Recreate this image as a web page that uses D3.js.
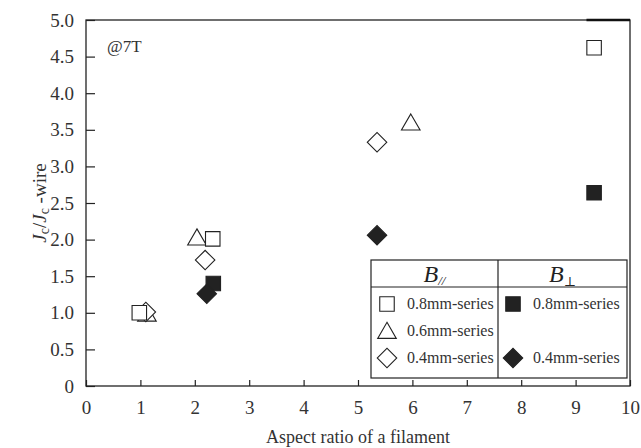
<!DOCTYPE html>
<html>
<head>
<meta charset="utf-8">
<script src="https://cdn.jsdelivr.net/npm/d3@7"></script>
<style>
  body { margin: 0; background: #fff; }
  svg { display: block; font-family: "Liberation Serif", "DejaVu Serif", serif; }
</style>
</head>
<body>
<div id="chart"></div>
<script>
// aspect ratio / Jc ratio
const sq08Par = [[0.98, 1.0], [2.33, 2.01], [9.34, 4.62]];
const tri06Par = [[1.12, 0.96], [2.04, 2.0], [5.97, 3.57]];
const dia04Par = [[1.1, 1.01], [2.19, 1.72], [5.35, 3.33]];
const sq08Perp = [[2.34, 1.4], [9.34, 2.64]];
const dia04Perp = [[2.22, 1.26], [5.35, 2.06]];

const xTicks = [0, 1, 2, 3, 4, 5, 6, 7, 8, 9, 10];
const yTicks = [0, 0.5, 1, 1.5, 2, 2.5, 3, 3.5, 4, 4.5, 5];

const width = 641, height = 448;
const margin = { top: 20, right: 11, bottom: 62, left: 86 };

const svg = d3.select('#chart').append('svg')
  .attr('width', width)
  .attr('height', height);

const x = d3.scaleLinear().domain([0, 10]).range([margin.left, width - margin.right]);
const y = d3.scaleLinear().domain([0, 5]).range([height - margin.bottom, margin.top]);

const ink = '#222';
const serif = '"Liberation Serif", serif';

// frame
svg.append('rect')
  .attr('x', x(0)).attr('y', y(5))
  .attr('width', x(10) - x(0)).attr('height', y(0) - y(5))
  .attr('fill', 'none').attr('stroke', ink).attr('stroke-width', 1.3);
// darker stub on the top edge, as in the scan
svg.append('line')
  .attr('x1', x(9.2)).attr('x2', x(10)).attr('y1', y(5)).attr('y2', y(5))
  .attr('stroke', '#111').attr('stroke-width', 2.4);

// axes with inward ticks
const xAxis = svg.append('g')
  .attr('transform', `translate(0,${y(0)})`)
  .call(d3.axisBottom(x).tickValues(xTicks).tickSizeInner(-6).tickSizeOuter(0).tickPadding(15)
    .tickFormat(d3.format('d')));
const yAxis = svg.append('g')
  .attr('transform', `translate(${x(0)},0)`)
  .call(d3.axisLeft(y).tickValues(yTicks).tickSizeInner(-9).tickSizeOuter(0).tickPadding(12)
    .tickFormat(d => d === 0 ? '0' : d3.format('.1f')(d)));

[xAxis, yAxis].forEach(g => {
  g.select('.domain').remove();
  g.selectAll('line').attr('stroke', ink).attr('stroke-width', 1.2);
  g.selectAll('text').attr('fill', '#333').style('font-size', '19px')
    .style('font-family', serif);
});

// axis titles
svg.append('text')
  .attr('x', (x(0) + x(10)) / 2).attr('y', 443)
  .attr('text-anchor', 'middle').attr('fill', '#333').style('font-size', '18px')
  .text('Aspect ratio of a filament');

const yl = svg.append('text')
  .attr('transform', `translate(46,${(y(0) + y(5)) / 2}) rotate(-90)`)
  .attr('text-anchor', 'middle').attr('fill', '#333').style('font-size', '19px');
yl.append('tspan').style('font-style', 'italic').text('J');
yl.append('tspan').attr('dy', 3).style('font-size', '14px').text('c');
yl.append('tspan').attr('dy', -3).text('/');
yl.append('tspan').style('font-style', 'italic').text('J');
yl.append('tspan').attr('dy', 3).style('font-size', '14px').text('c');
yl.append('tspan').attr('dy', -3).text(' -wire');

svg.append('text')
  .attr('x', 107).attr('y', 52)
  .attr('fill', '#333').style('font-size', '17px')
  .text('@7T');

// markers
const sqSym = d3.symbol().type(d3.symbolSquare).size(210);
const triSym = d3.symbol().type(d3.symbolTriangle).size(150);
// diamonds drawn as rotated squares to match the square-ish shape
const diaSym = d3.symbol().type(d3.symbolSquare).size(190);

function drawSeries(data, sym, fill, rotate) {
  svg.append('g').selectAll('path')
    .data(data)
    .enter()
    .append('path')
    .attr('d', sym)
    .attr('transform', d => `translate(${x(d[0])},${y(d[1])})${rotate ? ' rotate(45)' : ''}`)
    .attr('fill', fill)
    .attr('stroke', ink)
    .attr('stroke-width', 1.1);
}

drawSeries(tri06Par, triSym, '#fff', false);
drawSeries(dia04Par, diaSym, '#fff', true);
drawSeries(sq08Par, sqSym, '#fff', false);
drawSeries(sq08Perp, sqSym, ink, false);
drawSeries(dia04Perp, diaSym, ink, true);

// legend table
const lg = { x0: 371, x1: 627, xm: 498, y0: 260, yh: 287, y1: 378 };
const leg = svg.append('g');
leg.append('rect')
  .attr('x', lg.x0).attr('y', lg.y0)
  .attr('width', lg.x1 - lg.x0).attr('height', lg.y1 - lg.y0)
  .attr('fill', '#fff').attr('stroke', ink).attr('stroke-width', 1.2);
leg.append('line').attr('x1', lg.x0).attr('x2', lg.x1).attr('y1', lg.yh).attr('y2', lg.yh)
  .attr('stroke', ink).attr('stroke-width', 1.2);
leg.append('line').attr('x1', lg.xm).attr('x2', lg.xm).attr('y1', lg.y0).attr('y2', lg.y1)
  .attr('stroke', ink).attr('stroke-width', 1.2);

const h1 = leg.append('text').attr('x', (lg.x0 + lg.xm) / 2).attr('y', 282)
  .attr('text-anchor', 'middle').attr('fill', '#222').style('font-size', '24px');
h1.append('tspan').style('font-style', 'italic').text('B');
h1.append('tspan').attr('dy', 3).style('font-size', '13px').style('font-style', 'italic').text('//');

const h2 = leg.append('text').attr('x', (lg.xm + lg.x1) / 2).attr('y', 282)
  .attr('text-anchor', 'middle').attr('fill', '#222').style('font-size', '24px');
h2.append('tspan').style('font-style', 'italic').text('B');
h2.append('tspan').attr('dy', 4).style('font-size', '13px').text('⊥');

const legRows = [
  { col: 0, row: 0, sym: sqSym, fill: '#fff', rot: false, label: '0.8mm-series' },
  { col: 0, row: 1, sym: triSym, fill: '#fff', rot: false, label: '0.6mm-series' },
  { col: 0, row: 2, sym: diaSym, fill: '#fff', rot: true, label: '0.4mm-series' },
  { col: 1, row: 0, sym: sqSym, fill: ink, rot: false, label: '0.8mm-series' },
  { col: 1, row: 2, sym: diaSym, fill: ink, rot: true, label: '0.4mm-series' }
];
const rowY = [304, 331, 358];
const colX = [387, 513];

legRows.forEach(r => {
  const cx = colX[r.col], cy = rowY[r.row];
  leg.append('path')
    .attr('d', r.sym)
    .attr('transform', `translate(${cx},${cy + (r.sym === triSym ? 2 : 0)})${r.rot ? ' rotate(45)' : ''}`)
    .attr('fill', r.fill).attr('stroke', ink).attr('stroke-width', 1.1);
  leg.append('text')
    .attr('x', cx + 20).attr('y', cy + 5)
    .attr('fill', '#333').style('font-size', '16px')
    .text(r.label);
});
</script>
</body>
</html>
